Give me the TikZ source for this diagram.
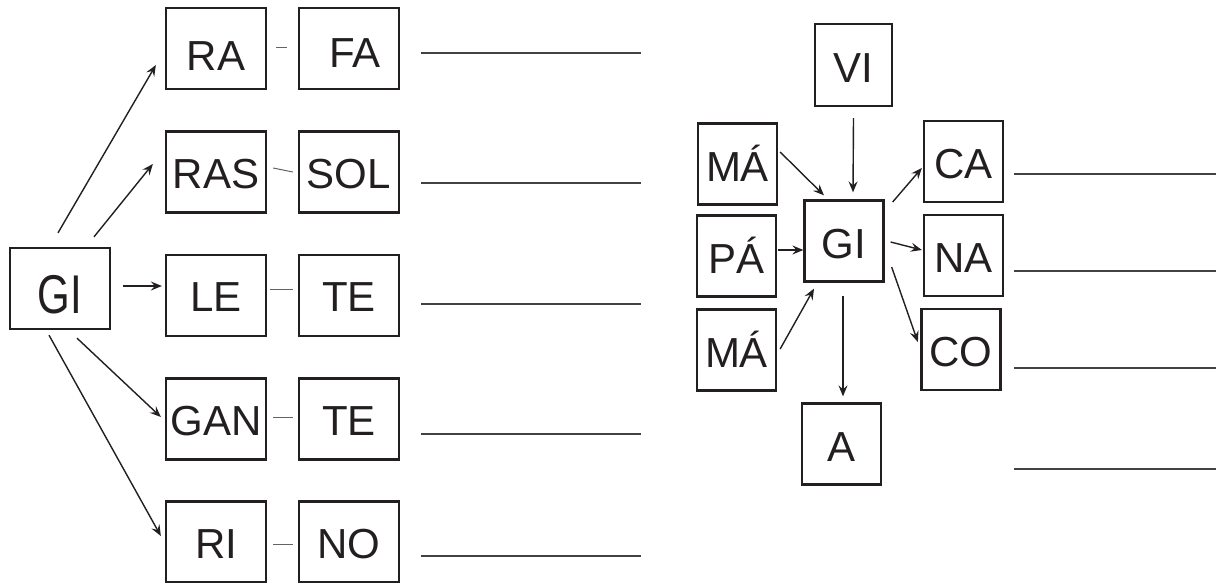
\documentclass[tikz,border=0pt]{standalone}
\usepackage{fontspec}
\setmainfont{Liberation Sans}
\usetikzlibrary{arrows.meta}
\definecolor{ink}{HTML}{231F20}
\tikzset{
  bx/.style={draw=ink, line width=2.3pt, inner sep=0pt, minimum width=100pt, minimum height=81pt,
    text height=32pt, text depth=0pt, font=\fontsize{42pt}{42pt}\selectfont, text=ink},
  sbx/.style={bx, minimum width=79pt, minimum height=81pt, text height=34pt},
  arr/.style={draw=ink, line width=1.4pt, -{Stealth[length=11pt,width=9pt,inset=4pt]}},
  dsh/.style={draw=ink!70, line width=1pt},
  blank/.style={draw=ink!85, line width=1.8pt}
}
\begin{document}
\begin{tikzpicture}[x=1pt,y=-1pt]
\useasboundingbox (0,0) rectangle (1216,582);
% left cluster
\node[bx, text height=49pt] (giL) at (60,288.5) {\scalebox{1}[1.3]{GI}};
\node[bx, text height=43pt] (ra) at (216,48.5) {RA};
\node[bx, text height=37pt] (fa) at (349,48.5) {\hspace{12pt}FA};
\node[bx] (ras) at (216,172) {RAS};
\node[bx] (sol) at (349,172) {SOL};
\node[bx] (le) at (216,295.5) {LE};
\node[bx] (te1) at (349,295.5) {TE};
\node[bx] (gan) at (216,419) {GAN};
\node[bx] (te2) at (349,419) {TE};
\node[bx] (ri) at (216,542) {RI};
\node[bx] (no) at (349,542) {NO};
% dashes
\draw[dsh] ([xshift=9pt,yshift=1.5pt]ra.east) -- ([xshift=-11pt,yshift=1.5pt]fa.west);
\draw[dsh] ([xshift=6pt,yshift=4pt]ras.east) -- ([xshift=-5pt]sol.west);
\draw[dsh] ([xshift=3pt,yshift=6.5pt]le.east) -- ([xshift=-5pt,yshift=6.5pt]te1.west);
\draw[dsh] ([xshift=6pt,yshift=2pt]gan.east) -- ([xshift=-5pt,yshift=2pt]te2.west);
\draw[dsh] ([xshift=6pt,yshift=-2pt]ri.east) -- ([xshift=-5pt,yshift=-2pt]no.west);
% left arrows
\draw[arr] ([xshift=-2pt,yshift=14pt]giL.north) -- ([xshift=-9pt,yshift=-16.5pt]ra.west);
\draw[arr] ([xshift=34pt,yshift=10pt]giL.north) -- ([xshift=-12pt,yshift=8pt]ras.west);
\draw[arr] ([xshift=12pt,yshift=2.5pt]giL.east) -- ([xshift=-3pt,yshift=9.5pt]le.west);
\draw[arr] ([xshift=17pt,yshift=-8pt]giL.south) -- ([xshift=-4pt,yshift=2pt]gan.west);
\draw[arr] ([xshift=-11pt,yshift=-5pt]giL.south) -- ([xshift=-4pt,yshift=6pt]ri.west);
% left blanks
\coordinate (l1a) at (421,53);  \coordinate (l1b) at (641,53);
\coordinate (l2a) at (421,183); \coordinate (l2b) at (641,183);
\coordinate (l3a) at (421,304); \coordinate (l3b) at (641,304);
\coordinate (l4a) at (421,434); \coordinate (l4b) at (641,434);
\coordinate (l5a) at (421,556); \coordinate (l5b) at (641,556);
\draw[blank] (l1a) -- (l1b);
\draw[blank] (l2a) -- (l2b);
\draw[blank] (l3a) -- (l3b);
\draw[blank] (l4a) -- (l4b);
\draw[blank] (l5a) -- (l5b);
% right cluster
\node[sbx, minimum width=77pt, minimum height=82pt] (vi) at (853.5,65) {VI};
\node[sbx] (ma1) at (737.5,164) {MÁ};
\node[sbx] (pa) at (736.5,256) {PÁ};
\node[sbx] (ma2) at (736.5,350) {MÁ};
\node[sbx] (gi2) at (844,241) {GI};
\node[sbx] (ca) at (963.5,161.5) {CA};
\node[sbx] (na) at (963.5,255.5) {NA};
\node[sbx] (co) at (961,349.5) {CO};
\node[sbx] (a) at (841.5,444) {A};
% right arrows
\draw[arr] ([yshift=-11pt]vi.south) -- ([xshift=9pt,yshift=7pt]gi2.north);
\draw[arr] ([xshift=2pt,yshift=12pt]ma1.east) -- ([xshift=-20pt,yshift=4pt]gi2.north);
\draw[arr] ([xshift=1pt,yshift=6pt]pa.east) -- ([yshift=-9pt]gi2.west);
\draw[arr] ([xshift=3pt,yshift=1pt]ma2.east) -- ([xshift=-30pt,yshift=-6pt]gi2.south);
\draw[arr] ([xshift=-1pt,yshift=-13pt]gi2.south) -- ([xshift=1.5pt,yshift=6pt]a.north);
\draw[arr] ([xshift=8pt,yshift=39pt]gi2.east) -- ([xshift=-1pt,yshift=-6.5pt]ca.west);
\draw[arr] ([xshift=6pt,yshift=-1pt]gi2.east) -- ([xshift=-1pt,yshift=5.5pt]na.west);
\draw[arr] ([xshift=7pt,yshift=-26pt]gi2.east) -- ([xshift=-2.5pt,yshift=7.5pt]co.west);
% right blanks
\coordinate (r1a) at (1014,174); \coordinate (r1b) at (1216,174);
\coordinate (r2a) at (1014,271); \coordinate (r2b) at (1216,271);
\coordinate (r3a) at (1014,368); \coordinate (r3b) at (1216,368);
\coordinate (r4a) at (1014,469); \coordinate (r4b) at (1216,469);
\draw[blank] (r1a) -- (r1b);
\draw[blank] (r2a) -- (r2b);
\draw[blank] (r3a) -- (r3b);
\draw[blank] (r4a) -- (r4b);
\end{tikzpicture}
\end{document}
